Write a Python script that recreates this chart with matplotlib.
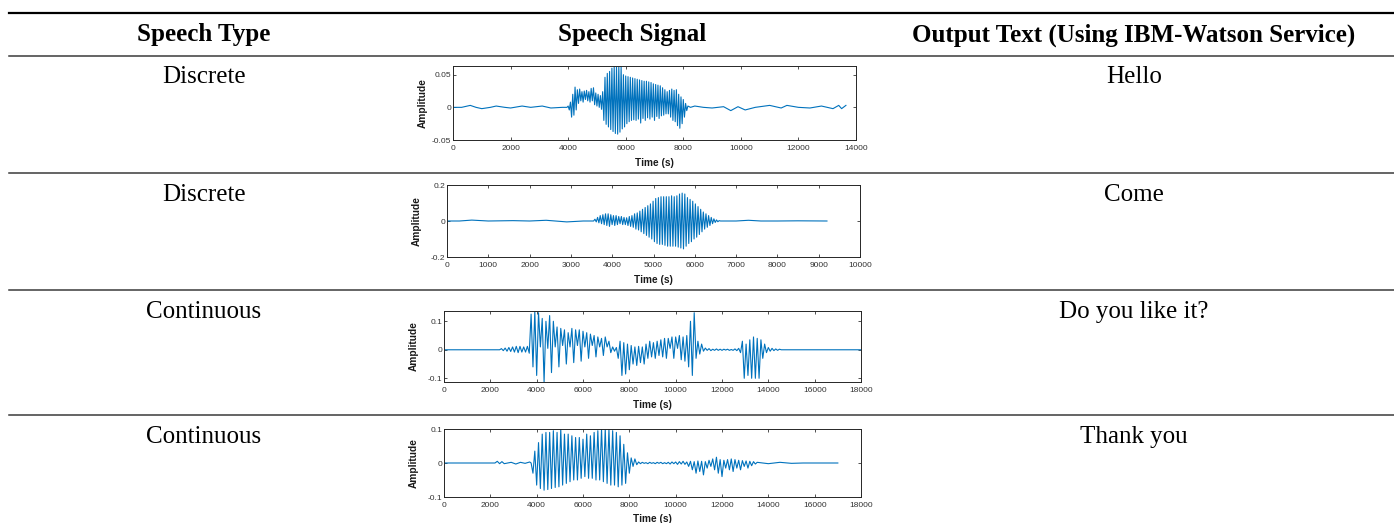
import numpy as np
import matplotlib
matplotlib.use("Agg")
import matplotlib.pyplot as plt

W, H = 1394, 523

# table text
headers = ["Speech Type", "Speech Signal", "Output Text (Using IBM-Watson Service)"]
speech_types = ["Discrete", "Discrete", "Continuous", "Continuous"]
output_texts = ["Hello", "Come", "Do you like it?", "Thank you"]

# ---- signal 1 : "Hello" ----
hello_pre_t = [0, 300, 600, 800, 1000, 1300, 1500, 1800, 2000, 2400, 2700, 3100, 3400, 3800, 3960]
hello_pre_a = [0.0, 0.0, 0.003, 0.0, -0.002, 0.0, 0.002, 0.0, -0.001, 0.002, 0.0, 0.002, -0.001, 0.0, 0.0]
hello_burst_t0 = 4000
hello_burst_dt = 40
hello_burst_a = [
    0.002, -0.004, 0.008, -0.015, 0.02, -0.012, 0.031, -0.004, 0.027, 0.006,
    0.028, 0.01, 0.024, 0.008, 0.025, 0.012, 0.026, 0.01, 0.024, 0.008,
    0.029, 0.01, 0.03, 0.004, 0.022, 0.002, 0.02, 0.0, 0.018, -0.003,
    0.024, -0.02, 0.046, -0.026, 0.052, -0.03, 0.055, -0.034, 0.06, -0.037,
    0.063, -0.04, 0.063, -0.041, 0.063, -0.038, 0.062, -0.033, 0.05, -0.03,
    0.048, -0.025, 0.047, -0.022, 0.046, -0.02, 0.045, -0.019, 0.044, -0.02,
    0.043, -0.018, 0.042, -0.024, 0.041, -0.017, 0.04, -0.02, 0.04, -0.016,
    0.039, -0.018, 0.038, -0.015, 0.036, -0.02, 0.035, -0.014, 0.034, -0.017,
    0.033, -0.013, 0.03, -0.012, 0.027, -0.01, 0.024, -0.01, 0.026, -0.015,
    0.028, -0.02, 0.026, -0.022, 0.027, -0.028, 0.02, -0.032, 0.016, -0.025,
    0.012, -0.015, 0.006, -0.005, 0.002,
]
hello_post_t = [8250, 8400, 8700, 9000, 9400, 9650, 9900, 10150, 10500, 11000, 11400,
                11600, 12000, 12400, 12800, 13200, 13400, 13500, 13650]
hello_post_a = [0.0, 0.002, 0.0, -0.001, 0.001, -0.005, 0.001, -0.004, 0.0, 0.003, -0.001,
                0.003, 0.0, -0.001, 0.002, -0.002, 0.003, -0.002, 0.003]

# ---- signal 2 : "Come" ----
come_pre_t = [0, 300, 600, 1000, 1600, 2000, 2400, 2900, 3300, 3520]
come_pre_a = [0.0, 0.0, 0.005, 0.0, 0.002, 0.0, 0.004, -0.005, 0.0, 0.0]
come_burst_t0 = 3550
come_burst_dt = 32
come_burst_a = [
    0.0, 0.01, -0.005, 0.02, -0.01, 0.03, -0.015, 0.035, -0.02, 0.04,
    -0.025, 0.04, -0.03, 0.035, -0.02, 0.03, -0.025, 0.03, -0.02, 0.025,
    -0.015, 0.025, -0.02, 0.02, -0.02, 0.018, -0.025, 0.025, -0.03, 0.03,
    -0.035, 0.04, -0.045, 0.045, -0.05, 0.055, -0.06, 0.065, -0.07, 0.075,
    -0.08, 0.085, -0.09, 0.095, -0.1, 0.11, -0.115, 0.125, -0.125, 0.13,
    -0.13, 0.135, -0.13, 0.135, -0.135, 0.135, -0.14, 0.135, -0.14, 0.14,
    -0.14, 0.135, -0.14, 0.14, -0.145, 0.15, -0.15, 0.155, -0.155, 0.15,
    -0.14, 0.13, -0.125, 0.12, -0.115, 0.11, -0.1, 0.095, -0.09, 0.08,
    -0.075, 0.065, -0.06, 0.05, -0.045, 0.04, -0.035, 0.03, -0.025, 0.02,
    -0.015, 0.012, -0.008, 0.006, -0.004, 0.002, 0.0,
]
come_post_t = [6700, 7000, 7300, 7600, 8000, 8500, 9200]
come_post_a = [0.0, 0.0, 0.004, 0.0, 0.0, 0.001, 0.0]

# ---- signal 3 : "Do you like it?" ----
like_pre_t = [0, 2350]
like_pre_a = [0.0, 0.0]
like_burst_t0 = 2400
like_burst_dt = 80
like_burst_a = [
    0.0, 0.004, -0.003, 0.006, -0.005, 0.008, -0.006, 0.01, -0.008, 0.012,
    -0.01, 0.012, -0.008, 0.01, -0.008, 0.012, -0.012, 0.125, -0.06, 0.135,
    -0.09, 0.13, 0.01, 0.11, -0.113, 0.1, 0.005, 0.12, -0.08, 0.1,
    0.01, 0.08, -0.06, 0.075, 0.015, 0.07, -0.05, 0.06, 0.01, 0.075,
    -0.045, 0.07, 0.015, 0.07, -0.04, 0.065, 0.01, 0.06, -0.03, 0.055,
    0.015, 0.05, -0.025, 0.045, 0.01, 0.04, -0.02, 0.045, 0.01, 0.03,
    -0.01, 0.01, -0.005, 0.008, -0.03, 0.03, -0.09, 0.025, -0.085, 0.02,
    -0.07, 0.015, -0.05, 0.01, -0.055, 0.012, -0.045, 0.01, -0.05, 0.02,
    -0.03, 0.03, -0.025, 0.025, -0.03, 0.03, -0.02, 0.035, -0.025, 0.04,
    -0.03, 0.04, 0.005, 0.045, -0.03, 0.045, 0.005, 0.05, -0.035, 0.045,
    -0.04, 0.05, -0.06, 0.1, -0.09, 0.13, -0.03, 0.03, -0.015, 0.02,
    -0.005, 0.006, -0.002, 0.004, -0.003, 0.002, -0.002, 0.003, -0.002, 0.002,
    -0.002, 0.002, -0.001, 0.002, -0.002, 0.001, -0.002, 0.003, -0.003, 0.005,
    -0.01, 0.03, -0.1, 0.02, -0.09, 0.035, -0.1, 0.045, -0.1, 0.04,
    -0.1, 0.035, -0.03, 0.02, -0.01, 0.008, -0.005, 0.005, -0.003, 0.003,
    -0.002, 0.002, 0.0,
]
like_post_t = [14700, 18000]
like_post_a = [0.0, 0.0]

# ---- signal 4 : "Thank you" ----
thank_pre_t = [0, 2200, 2300, 2400, 2500, 2600, 2900, 3100, 3300, 3500, 3700]
thank_pre_a = [0.0, 0.0, 0.005, -0.002, 0.004, -0.002, 0.002, -0.003, 0.002, -0.001, 0.003]
thank_burst_t0 = 3760
thank_burst_dt = 80
thank_burst_a = [
    0.0, -0.03, 0.035, -0.065, 0.06, -0.075, 0.085, -0.08, 0.09, -0.078,
    0.09, -0.075, 0.095, -0.072, 0.09, -0.07, 0.1, -0.065, 0.085, -0.06,
    0.085, -0.055, 0.08, -0.05, 0.075, -0.05, 0.075, -0.045, 0.07, -0.04,
    0.085, -0.045, 0.08, -0.045, 0.09, -0.05, 0.095, -0.05, 0.1, -0.055,
    0.1, -0.06, 0.1, -0.065, 0.095, -0.065, 0.09, -0.07, 0.08, -0.065,
    0.055, -0.06, 0.03, -0.03, 0.015, -0.01, 0.012, -0.005, 0.003, -0.002,
    0.002, -0.001, 0.001, -0.002, 0.002, -0.001, 0.001, -0.002, 0.002, -0.001,
    0.002, -0.002, 0.001, -0.002, 0.002, -0.003, 0.003, -0.002, 0.003, -0.004,
    0.004, -0.003, 0.005, -0.004, 0.003, -0.01, 0.005, -0.02, 0.004, -0.03,
    0.006, -0.025, 0.005, -0.035, 0.004, -0.015, 0.008, -0.01, 0.012, -0.02,
    0.017, -0.03, 0.01, -0.04, 0.008, -0.015, 0.01, -0.02, 0.012, -0.025,
    0.01, -0.015, 0.008, -0.02, 0.007, -0.01, 0.006, -0.015, 0.005, -0.008,
    0.004, -0.003,
]
thank_post_t = [13520, 14000, 14500, 15000, 15500, 17000]
thank_post_a = [0.002, -0.002, 0.002, -0.001, 0.0, 0.0]


def build(pre_t, pre_a, t0, dt, burst, post_t, post_a):
    bt = t0 + dt * np.arange(len(burst))
    t = np.concatenate([pre_t, bt, post_t])
    a = np.concatenate([pre_a, burst, post_a])
    return t, a


signals = [
    build(hello_pre_t, hello_pre_a, hello_burst_t0, hello_burst_dt, hello_burst_a, hello_post_t, hello_post_a),
    build(come_pre_t, come_pre_a, come_burst_t0, come_burst_dt, come_burst_a, come_post_t, come_post_a),
    build(like_pre_t, like_pre_a, like_burst_t0, like_burst_dt, like_burst_a, like_post_t, like_post_a),
    build(thank_pre_t, thank_pre_a, thank_burst_t0, thank_burst_dt, thank_burst_a, thank_post_t, thank_post_a),
]

# axes boxes in pixels: left, right, top, bottom
boxes = [(453, 856, 66, 140), (447, 860, 185, 257), (444, 861, 311, 382), (444, 861, 429, 497)]
xlims = [(0, 14000), (0, 10000), (0, 18000), (0, 18000)]
xsteps = [2000, 1000, 2000, 2000]
ylims = [(-0.05, 0.0633), (-0.2, 0.2), (-0.113, 0.136), (-0.1, 0.1)]
yticks = [[-0.05, 0, 0.05], [-0.2, 0, 0.2], [-0.1, 0, 0.1], [-0.1, 0, 0.1]]

fig = plt.figure(figsize=(W / 100, H / 100), dpi=100)
fig.patch.set_facecolor("white")

serif = ["Liberation Serif", "DejaVu Serif"]
sans = ["Liberation Sans", "DejaVu Sans"]
row_y = [77, 195, 312, 437]

# table rules
line_ax = fig.add_axes([0, 0, 1, 1])
line_ax.set_xlim(0, W)
line_ax.set_ylim(H, 0)
line_ax.axis("off")
line_ax.plot([9, W], [13, 13], color="black", lw=1.6)
for yy in [56, 172.5, 290, 415]:
    line_ax.plot([9, W], [yy, yy], color="#3a3a3a", lw=1.1)

for xx, txt in zip([204, 632, 1134], headers):
    line_ax.text(xx, 35, txt, ha="center", va="center", fontsize=18,
                 fontweight="bold", family=serif)
for yy, st, ot in zip(row_y, speech_types, output_texts):
    line_ax.text(204, yy, st, ha="center", va="center", fontsize=18, family=serif)
    line_ax.text(1134, yy, ot, ha="center", va="center", fontsize=18, family=serif)

for i, (t, a) in enumerate(signals):
    l, r, tp, bt = boxes[i]
    ax = fig.add_axes([l / W, 1 - bt / H, (r - l) / W, (bt - tp) / H])
    ax.plot(t, a, color="#0072BD", lw=0.8)
    ax.set_xlim(*xlims[i])
    ax.set_ylim(*ylims[i])
    ax.set_xticks(np.arange(xlims[i][0], xlims[i][1] + 1, xsteps[i]))
    ax.set_yticks(yticks[i])
    ax.set_yticklabels([("%g" % v) for v in yticks[i]])
    ax.tick_params(direction="in", length=2.2, width=0.6, top=True, right=True,
                   labelsize=6, colors="#333333")
    ax.tick_params(axis="x", pad=3.8)
    ax.tick_params(axis="y", pad=1.2)
    for sp in ax.spines.values():
        sp.set_linewidth(0.7)
        sp.set_color("#262626")
    for lab in ax.get_xticklabels() + ax.get_yticklabels():
        lab.set_family(sans)
    hpx = bt - tp
    wpx = r - l
    ax.set_xlabel("Time (s)", fontsize=7.3, fontweight="bold", va="center",
                  family=sans, color="#1a1a1a")
    ax.xaxis.set_label_coords(0.5, -22.5 / hpx)
    ax.set_ylabel("Amplitude", fontsize=7.3, fontweight="bold", va="center",
                  family=sans, color="#1a1a1a")
    ax.yaxis.set_label_coords(-30.0 / wpx, 0.5)

fig.savefig("out.png", dpi=100)
